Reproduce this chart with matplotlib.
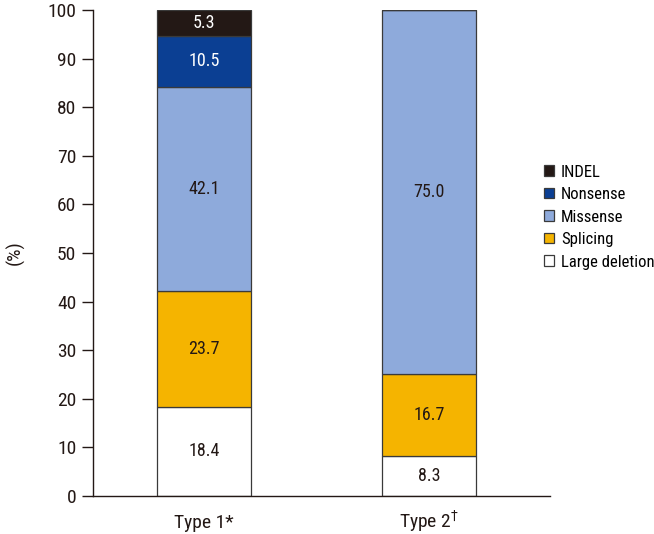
import matplotlib
matplotlib.use("Agg")
import matplotlib.pyplot as plt
from matplotlib import font_manager

# condensed sans, as in the reference
names = {f.name for f in font_manager.fontManager.ttflist}
prefs = ["Roboto Condensed", "Liberation Sans Narrow", "Archivo Narrow",
         "PT Sans Narrow", "Fira Sans Condensed", "Roboto"]
base = next(p for p in prefs if p in names)
plt.rcParams['font.family'] = [base, 'DejaVu Sans']

groups = ["Type 1*", r"Type 2$^{\dagger}$"]
categories = ["Large deletion", "Splicing", "Missense", "Nonsense", "INDEL"]
values = {
    "Large deletion": [18.4, 8.3],
    "Splicing": [23.7, 16.7],
    "Missense": [42.1, 75.0],
    "Nonsense": [10.5, 0.0],
    "INDEL": [5.3, 0.0],
}
colors = {
    "Large deletion": "#ffffff",
    "Splicing": "#f5b400",
    "Missense": "#8eaadb",
    "Nonsense": "#0b3f93",
    "INDEL": "#231815",
}
label_colors = {
    "Large deletion": "#231815",
    "Splicing": "#231815",
    "Missense": "#231815",
    "Nonsense": "white",
    "INDEL": "white",
}

fig = plt.figure(figsize=(6.54, 5.34), dpi=100)
ax = fig.add_axes([0.142, 0.0712, 0.699, 0.910])

x = list(range(len(groups)))
bottom = [0.0] * len(groups)
handles = {}
for cat in categories:
    vals = values[cat]
    bars = ax.bar(x, vals, width=0.42, bottom=bottom, color=colors[cat],
                  edgecolor="#3a3a3a", linewidth=0.9, label=cat)
    handles[cat] = bars
    for xi, v, b in zip(x, vals, bottom):
        if v > 0:
            ax.text(xi, b + v / 2, f"{v:.1f}", ha="center", va="center",
                    fontsize=13, color=label_colors[cat])
    bottom = [b + v for b, v in zip(bottom, vals)]

ax.set_xlim(-0.493, 1.538)
ax.set_ylim(0, 100)
ax.set_yticks(range(0, 101, 10))
ax.set_xticks(x)
ax.tick_params(axis="y", length=8, width=1, labelsize=14, pad=4, colors="#231815")
ax.tick_params(axis="x", length=0, labelsize=14, pad=23, colors="#231815")
ax.set_xticklabels(groups)
for lbl in ax.get_xticklabels():
    lbl.set_va("baseline")
for s in ["top", "right"]:
    ax.spines[s].set_visible(False)
for s in ["left", "bottom"]:
    ax.spines[s].set_color("#231815")
    ax.spines[s].set_linewidth(1)
ax.set_ylabel("(%)", fontsize=14, color="#231815")
ax.yaxis.set_label_coords(-0.15, 0.5)

order = ["INDEL", "Nonsense", "Missense", "Splicing", "Large deletion"]
leg = ax.legend([handles[c] for c in order], order, loc="center left",
                bbox_to_anchor=(0.986, 0.574), frameon=False, fontsize=12,
                handlelength=0.6, handleheight=0.6, handletextpad=0.45,
                labelspacing=0.45, borderaxespad=0, borderpad=0)
leg.set_clip_on(False)

fig.savefig("out.png", dpi=100)
